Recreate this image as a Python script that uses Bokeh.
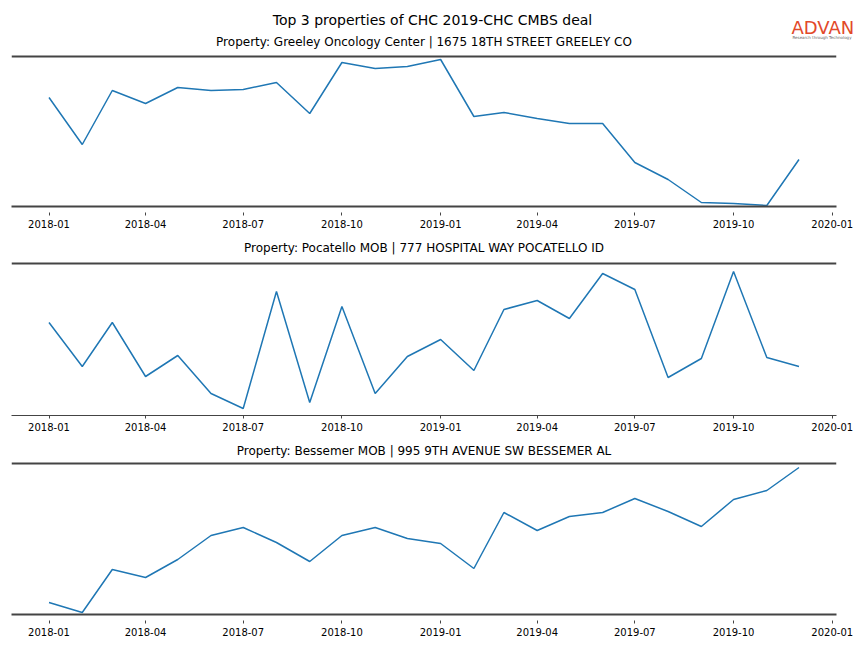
import pandas as pd
from bokeh.plotting import figure
from bokeh.models import Label, Span, FixedTicker, DatetimeTickFormatter, Range1d
from bokeh.layouts import column, row
from bokeh.embed import file_html
from bokeh.resources import INLINE

months = ["2018-01", "2018-02", "2018-03", "2018-04", "2018-05", "2018-06",
          "2018-07", "2018-08", "2018-09", "2018-10", "2018-11", "2018-12",
          "2019-01", "2019-02", "2019-03", "2019-04", "2019-05", "2019-06",
          "2019-07", "2019-08", "2019-09", "2019-10", "2019-11", "2019-12"]

values1 = [109, 62, 116, 103, 119, 116, 117, 124, 93, 144, 138, 140,
           147, 90, 94, 88, 83, 83, 44, 27, 4, 3, 1, 47]
values2 = [93, 49, 93, 39, 60, 22, 7, 124, 13, 109, 22, 59,
           76, 45, 106, 115, 97, 142, 126, 38, 57, 144, 58, 49]
values3 = [12, 2, 45, 37, 55, 79, 87, 72, 53, 79, 87, 76,
           71, 46, 102, 84, 98, 102, 116, 103, 88, 115, 124, 147]

tick_labels = ["2018-01", "2018-04", "2018-07", "2018-10", "2019-01",
               "2019-04", "2019-07", "2019-10", "2020-01"]

main_title = "Top 3 properties of CHC 2019-CHC CMBS deal"
titles = ["Property: Greeley Oncology Center | 1675 18TH STREET GREELEY CO",
          "Property: Pocatello MOB | 777 HOSPITAL WAY POCATELLO ID",
          "Property: Bessemer MOB | 995 9TH AVENUE SW BESSEMER AL"]
series = [values1, values2, values3]

dates = pd.to_datetime(months)
ticks = [pd.Timestamp(t).value / 1e6 for t in pd.to_datetime(tick_labels)]
d0 = dates[0].value / 1e6
d1 = dates[-1].value / 1e6
pad = 0.05 * (d1 - d0)

FONT = "DejaVu Sans"
W = 860
HEAD_H = 50

# header: main title, logo and first subplot title (y measured from top)
head = figure(width=W, height=HEAD_H, x_range=Range1d(0, W),
              y_range=Range1d(HEAD_H, 0), x_axis_location=None,
              y_axis_location=None, toolbar_location=None,
              output_backend="svg", min_border=0)
head.outline_line_color = None
head.xgrid.grid_line_color = None
head.ygrid.grid_line_color = None
head.add_layout(Label(x=432, y=19.5, text=main_title,
                      text_align="center", text_baseline="middle",
                      text_font=FONT, text_font_size="14px",
                      text_color="black"))
head.add_layout(Label(x=791, y=26.5, text="ADVAN",
                      text_align="left", text_baseline="middle",
                      text_font=FONT, text_font_size="18px",
                      text_color="#E2492A"))
head.add_layout(Label(x=792, y=36.5, text="Research through Technology",
                      text_align="left", text_baseline="middle",
                      text_font=FONT, text_font_size="4px",
                      text_color="#666666"))
head.add_layout(Label(x=423.5, y=41.7, text=titles[0],
                      text_align="center", text_baseline="middle",
                      text_font=FONT, text_font_size="12px",
                      text_color="black"))

# (frame h, axes h, bottom border, spine width, title y, tick in, tick out)
layouts = [(156, 150, 26, 2, None, -6, 9),
           (183, 152, 24, 1, 415 - 247.7, 0, 3),
           (175, 151, 26, 2, 614 - 450.2, -6, 9)]

figs = [row(head)]
for i, (vals, title) in enumerate(zip(series, titles)):
    fh, ah, bb, sw, ty, tin, tout = layouts[i]
    p = figure(width=W, height=fh + bb, x_axis_type="datetime",
               y_axis_location=None, toolbar_location=None,
               output_backend="svg",
               x_range=Range1d(d0 - pad, d1 + pad), y_range=Range1d(0, fh),
               min_border_left=11, min_border_right=W - 836,
               min_border_top=0, min_border_bottom=bb)
    p.outline_line_color = None
    p.xgrid.grid_line_color = None
    p.ygrid.grid_line_color = None
    p.background_fill_color = "white"
    p.border_fill_color = "white"

    p.line(dates, vals, line_color="#1f77b4", line_width=1.5)

    ax = p.xaxis[0]
    ax.ticker = FixedTicker(ticks=ticks)
    ax.formatter = DatetimeTickFormatter(days="%Y-%m", months="%Y-%m",
                                         years="%Y-%m")
    ax.axis_line_color = "#444444"
    ax.axis_line_width = sw
    ax.major_tick_in = tin
    ax.major_tick_out = tout
    ax.major_tick_line_color = "#444444"
    ax.minor_tick_line_color = None
    ax.major_label_standoff = 4
    ax.major_label_text_font = FONT
    ax.major_label_text_font_size = "10px"
    ax.major_label_text_color = "black"

    p.add_layout(Span(location=ah, dimension="width", line_color="#444444",
                      line_width=2))

    if ty is not None:
        p.add_layout(Label(x=412.5, x_units="screen", y=ty, text=title,
                           text_align="center", text_baseline="middle",
                           text_font=FONT, text_font_size="12px",
                           text_color="black"))
    figs.append(row(p))

layout = column(*figs, spacing=0)
open("out.html", "w").write(file_html(layout, INLINE))
